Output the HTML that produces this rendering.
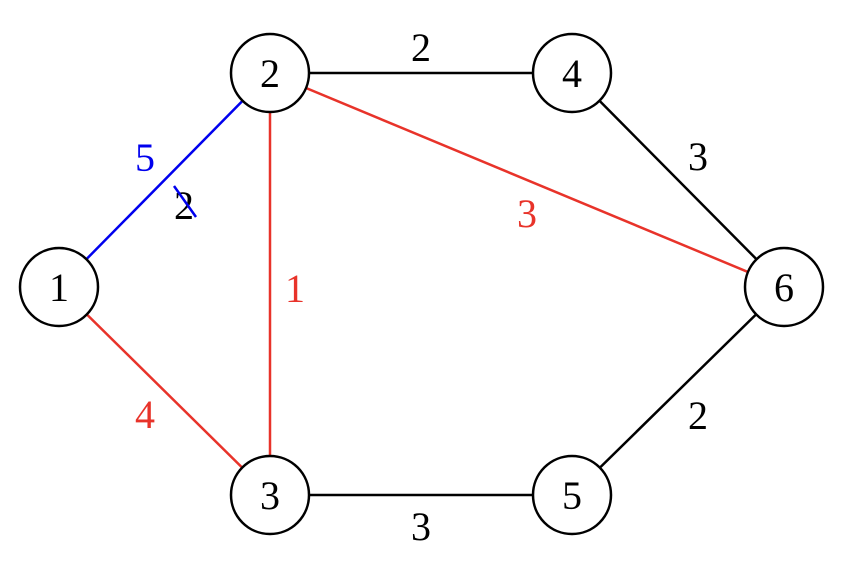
<!DOCTYPE html>
<html><head><style>body{margin:0;background:#fff}</style></head><body>
<svg width="848" height="580" xmlns="http://www.w3.org/2000/svg" font-family="Liberation Serif, serif" font-size="40" text-anchor="middle">
<g stroke-width="2.5" fill="none">
<line x1="59" y1="287" x2="270" y2="73" stroke="#0000ee"/>
<line x1="59" y1="287" x2="270" y2="495" stroke="#e8332a"/>
<line x1="270" y1="73" x2="270" y2="495" stroke="#e8332a"/>
<line x1="270" y1="73" x2="784" y2="287" stroke="#e8332a"/>
<line x1="270" y1="73" x2="572" y2="73" stroke="#000"/>
<line x1="572" y1="73" x2="784" y2="287" stroke="#000"/>
<line x1="784" y1="287" x2="572" y2="495" stroke="#000"/>
<line x1="270" y1="495" x2="572" y2="495" stroke="#000"/>
</g>
<g fill="#fff" stroke="#000" stroke-width="2.5">
<circle cx="59" cy="287" r="39"/><circle cx="270" cy="73" r="39"/><circle cx="572" cy="73" r="39"/>
<circle cx="784" cy="287" r="39"/><circle cx="270" cy="495" r="39"/><circle cx="572" cy="495" r="39"/>
</g>
<g fill="#000">
<text x="59" y="301">1</text><text x="270" y="87">2</text><text x="572" y="87">4</text>
<text x="784" y="301">6</text><text x="270" y="509">3</text><text x="572" y="509">5</text>
<text x="421" y="61">2</text><text x="698" y="170">3</text><text x="698" y="429">2</text>
<text x="421" y="540">3</text><text x="184" y="219">2</text>
</g>
<line x1="174" y1="186" x2="196" y2="217" stroke="#0000ee" stroke-width="2.5"/>
<text x="145" y="171" fill="#0000ee">5</text>
<g fill="#e8332a">
<text x="145" y="428">4</text><text x="295" y="302">1</text><text x="527" y="227">3</text>
</g>
</svg>
</body></html>
